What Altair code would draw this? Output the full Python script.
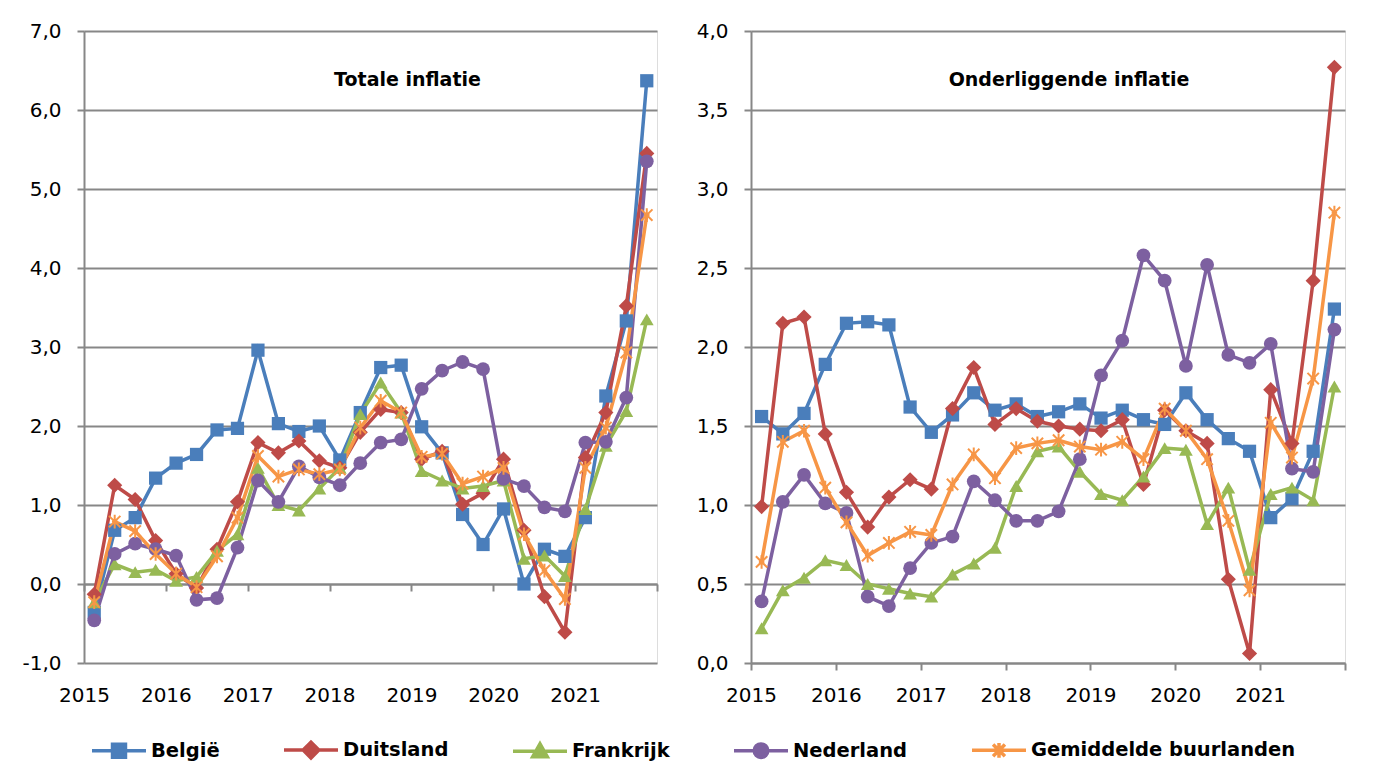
import altair as alt
import pandas as pd

# ---------------- data ----------------
years = [2015, 2016, 2017, 2018, 2019, 2020, 2021]
quarters_per_year = 4
series = ["België", "Duitsland", "Frankrijk", "Nederland", "Gemiddelde buurlanden"]

# Totale inflatie (quarterly, 2015Q1 .. 2021Q4)
be_tot = [-0.36, 0.68, 0.84, 1.34, 1.53, 1.64, 1.95, 1.97, 2.96, 2.03, 1.93, 2.00, 1.57, 2.17,
          2.74, 2.77, 1.99, 1.66, 0.88, 0.50, 0.95, 0.00, 0.44, 0.35, 0.84, 2.38, 3.33, 6.37]
de_tot = [-0.13, 1.25, 1.07, 0.55, 0.13, -0.05, 0.44, 1.04, 1.79, 1.66, 1.81, 1.56, 1.47, 1.92,
          2.21, 2.17, 1.58, 1.68, 1.01, 1.15, 1.58, 0.68, -0.16, -0.61, 1.60, 2.17, 3.52, 5.45]
fr_tot = [-0.23, 0.25, 0.15, 0.18, 0.04, 0.09, 0.42, 0.63, 1.47, 1.00, 0.93, 1.21, 1.47, 2.15,
          2.55, 2.17, 1.43, 1.31, 1.21, 1.24, 1.31, 0.32, 0.36, 0.10, 0.95, 1.75, 2.19, 3.35]
nl_tot = [-0.46, 0.38, 0.51, 0.44, 0.36, -0.20, -0.18, 0.46, 1.31, 1.04, 1.49, 1.35, 1.25, 1.53,
          1.79, 1.83, 2.47, 2.70, 2.81, 2.72, 1.33, 1.24, 0.97, 0.92, 1.79, 1.80, 2.36, 5.35]
avg_tot = [-0.23, 0.79, 0.67, 0.38, 0.13, -0.04, 0.35, 0.84, 1.62, 1.36, 1.45, 1.39, 1.45, 1.98,
           2.32, 2.17, 1.61, 1.65, 1.27, 1.36, 1.47, 0.63, 0.17, -0.19, 1.47, 1.98, 2.93, 4.67]

# Onderliggende inflatie
be_core = [1.56, 1.45, 1.58, 1.89, 2.15, 2.16, 2.14, 1.62, 1.46, 1.57, 1.71, 1.60, 1.64, 1.56,
           1.59, 1.64, 1.55, 1.60, 1.54, 1.51, 1.71, 1.54, 1.42, 1.34, 0.92, 1.04, 1.34, 2.24]
de_core = [0.99, 2.15, 2.19, 1.45, 1.08, 0.86, 1.05, 1.16, 1.10, 1.61, 1.87, 1.51, 1.61, 1.53,
           1.50, 1.48, 1.47, 1.54, 1.13, 1.60, 1.47, 1.39, 0.53, 0.06, 1.73, 1.39, 2.42, 3.77]
fr_core = [0.22, 0.46, 0.54, 0.65, 0.62, 0.50, 0.47, 0.44, 0.42, 0.56, 0.63, 0.73, 1.12, 1.34,
           1.37, 1.21, 1.07, 1.03, 1.18, 1.36, 1.35, 0.88, 1.11, 0.59, 1.07, 1.11, 1.03, 1.75]
nl_core = [0.39, 1.02, 1.19, 1.01, 0.95, 0.42, 0.36, 0.60, 0.76, 0.80, 1.15, 1.03, 0.90, 0.90,
           0.96, 1.29, 1.82, 2.04, 2.58, 2.42, 1.88, 2.52, 1.95, 1.90, 2.02, 1.23, 1.21, 2.11]
avg_core = [0.64, 1.40, 1.47, 1.11, 0.89, 0.68, 0.76, 0.83, 0.81, 1.13, 1.32, 1.17, 1.36, 1.39,
            1.41, 1.37, 1.35, 1.40, 1.29, 1.61, 1.47, 1.29, 0.90, 0.46, 1.52, 1.30, 1.80, 2.85]

# ---------------- styles ----------------
colors = ["#4A7EBB", "#BE4B48", "#98B954", "#7D60A0", "#F79646"]
shapes = ["square", "diamond", "triangle-up", "circle",
          "M-1,-1L1,1M-1,1L1,-1M0,-1.2L0,1.2"]
marker_sizes = [175, 230, 190, 190, 130]
legend_paths = [
    "M-1,0H1M-0.24,-0.24H0.24V0.24H-0.24Z",
    "M-1,0H1M0,-0.29L0.29,0L0,0.29L-0.29,0Z",
    "M-1,0H1M0,-0.28L0.27,0.2L-0.27,0.2Z",
    "M-1,0H1M-0.25,0A0.25,0.25 0 1 0 0.25,0A0.25,0.25 0 1 0 -0.25,0Z",
    "M-1,0H1M-0.22,-0.22L0.22,0.22M-0.22,0.22L0.22,-0.22M0,-0.27V0.27",
]
FONT = "DejaVu Sans"
GRID = "#878787"


def build_df(values_list):
    rows = []
    for name, vals in zip(series, values_list):
        for i, v in enumerate(vals):
            rows.append({"land": name, "pos": i + 0.5, "waarde": v})
    return pd.DataFrame(rows)


df_tot = build_df([be_tot, de_tot, fr_tot, nl_tot, avg_tot])
df_core = build_df([be_core, de_core, fr_core, nl_core, avg_core])

n_q = len(years) * quarters_per_year
tick_vals = list(range(0, n_q + 1, quarters_per_year))
x_label_expr = f"datum.value < {n_q} ? '' + (2015 + datum.value / 4) : ''"
y_label_expr = "(datum.value < 0 ? '-' : '') + replace(format(abs(datum.value), '.1f'), '.', ',')"


def panel(df, ymin, ymax, ystep, width, height, title, title_dx, x_offset, x_lblpad, with_legend):
    yvals = []
    v = ymin
    while v <= ymax + 1e-9:
        yvals.append(round(v, 2))
        v += ystep
    x = alt.X(
        "pos:Q",
        scale=alt.Scale(domain=[0, n_q], nice=False, zero=False),
        axis=alt.Axis(values=tick_vals, labelExpr=x_label_expr, title=None, grid=False,
                      tickSize=7, tickColor=GRID, tickWidth=2, domainColor=GRID, domainWidth=2,
                      labelFont=FONT, labelFontSize=20, labelColor="black",
                      labelPadding=x_lblpad, offset=x_offset, labelFlush=False, labelOverlap=False),
    )
    y = alt.Y(
        "waarde:Q",
        scale=alt.Scale(domain=[ymin, ymax], nice=False, zero=False),
        axis=alt.Axis(values=yvals, labelExpr=y_label_expr, title=None, grid=True,
                      gridColor=GRID, gridWidth=2, tickSize=7, tickColor=GRID, tickWidth=2,
                      domainColor=GRID, domainWidth=2, labelFont=FONT, labelFontSize=20,
                      labelColor="black", labelPadding=16, labelFlush=False, labelOverlap=False),
    )
    base = alt.Chart(df)
    if with_legend:
        leg = alt.Legend(
            orient="none", legendX=6, legendY=690, direction="horizontal", columns=5,
            title=None, labelFont=FONT, labelFontWeight="bold", labelFontSize=19.5,
            labelColor="black", symbolSize=2916, symbolStrokeWidth=3.5, labelOffset=3,
            columnPadding=57, padding=0, labelLimit=500,
        )
    else:
        leg = None
    # lines: stroke/shape/fill channels carry the merged legend (fill hidden on the lines)
    layers = [base.mark_line(strokeWidth=3.5, fillOpacity=0).encode(
        x=x, y=y,
        stroke=alt.Stroke("land:N", scale=alt.Scale(domain=series, range=colors), legend=leg),
        shape=alt.Shape("land:N", scale=alt.Scale(domain=series, range=legend_paths), legend=leg),
        fill=alt.Fill("land:N", scale=alt.Scale(domain=series, range=colors), legend=leg),
    )]
    for name, shp, sz in zip(series, shapes, marker_sizes):
        star = shp.startswith("M")
        layers.append(
            base.transform_filter(alt.datum.land == name)
            .mark_point(shape=shp, filled=not star, size=sz,
                        strokeWidth=2 if star else 0, opacity=1,
                        color=colors[series.index(name)])
            .encode(x=x, y=y)
        )
    return alt.layer(*layers).properties(
        width=width, height=height,
        title=alt.TitleParams(title, anchor="middle", offset=-78, dx=title_dx, font=FONT,
                              fontSize=19, fontWeight="bold", color="black", baseline="middle"),
    )


left = panel(df_tot, -1.0, 7.0, 1.0, 573, 632, "Totale inflatie", 37, -79, 94, True)
right = panel(df_core, 0.0, 4.0, 0.5, 594, 632, "Onderliggende inflatie", 21, 0, 15, False)

chart = alt.hconcat(left, right, spacing=36).properties(
    padding={"left": 13, "top": 12, "right": 5, "bottom": 5}
).configure_view(stroke=None).configure(background="white")

chart.save("out.html", embed_options={"renderer": "svg", "actions": False})
